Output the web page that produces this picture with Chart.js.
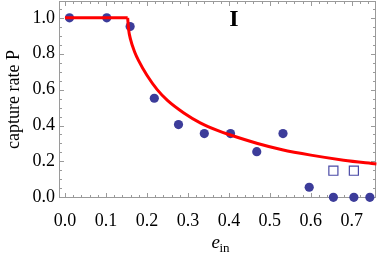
<!DOCTYPE html>
<html lang="en">
<head>
    <meta charset="UTF-8">
    <title>Capture rate</title>
    <script src="https://cdn.jsdelivr.net/npm/chart.js"></script>
    <style>
        html, body { margin: 0; padding: 0; background: #ffffff; }
        .wrap { width: 382px; height: 254px; }
    </style>
</head>
<body>
    <div class="wrap"><canvas id="chart" width="382" height="254"></canvas></div>

    <script>
        // --- Data ---
        const simE = [0.011, 0.102, 0.159, 0.218, 0.277, 0.340, 0.404, 0.468, 0.532, 0.596, 0.655, 0.705, 0.744];
        const simP = [1.0, 1.0, 0.952, 0.552, 0.405, 0.355, 0.355, 0.254, 0.355, 0.056, 0.0, 0.0, 0.0];
        const openE = [0.655, 0.705];
        const openP = [0.148, 0.148];
        const plateauE = [0.0, 0.153];
        const plateauP = [1.0, 1.0];
        const fitE = [0.153, 0.155, 0.160, 0.170, 0.180, 0.200, 0.225, 0.250, 0.290, 0.330, 0.375, 0.400, 0.470, 0.530, 0.600, 0.680, 0.760];
        const fitP = [1.00, 0.94, 0.88, 0.81, 0.76, 0.68, 0.60, 0.54, 0.47, 0.415, 0.37, 0.35, 0.30, 0.265, 0.235, 0.207, 0.186];
        const xTicks = [0.0, 0.1, 0.2, 0.3, 0.4, 0.5, 0.6, 0.7];
        const yTicks = [0.0, 0.2, 0.4, 0.6, 0.8, 1.0];

        const pts = (xs, ys) => xs.map((x, i) => ({ x: x, y: ys[i] }));
        const SERIF = '"Liberation Serif", "DejaVu Serif", serif';
        const FRAME = '#9a9a9a';

        // frame with inward ticks on all four sides (Mathematica style)
        const framePlugin = {
            id: 'frame',
            beforeDatasetsDraw(chart) {
                const { ctx, chartArea: a, scales: { x, y } } = chart;
                ctx.save();
                ctx.strokeStyle = FRAME;
                ctx.lineWidth = 1;
                ctx.strokeRect(a.left + 0.5, a.top + 0.5, a.right - a.left - 1, a.bottom - a.top - 1);
                ctx.beginPath();
                for (let v = 0; v <= 0.76; v += 0.02) {
                    const px = Math.round(x.getPixelForValue(v)) + 0.5;
                    const len = Math.abs(v * 10 - Math.round(v * 10)) < 1e-6 ? 5 : 3;
                    ctx.moveTo(px, a.bottom); ctx.lineTo(px, a.bottom - len);
                    ctx.moveTo(px, a.top); ctx.lineTo(px, a.top + len);
                }
                for (let v = 0; v <= 1.06; v += 0.05) {
                    const py = Math.round(y.getPixelForValue(v)) + 0.5;
                    const len = Math.abs(v * 5 - Math.round(v * 5)) < 1e-6 ? 5 : 3;
                    ctx.moveTo(a.left, py); ctx.lineTo(a.left + len, py);
                    ctx.moveTo(a.right, py); ctx.lineTo(a.right - len, py);
                }
                ctx.stroke();
                ctx.restore();
            },
            afterDraw(chart) {
                const { ctx, chartArea: a } = chart;
                ctx.save();
                ctx.fillStyle = '#000';
                ctx.textBaseline = 'alphabetic';
                // panel label
                ctx.font = 'bold 24px ' + SERIF;
                ctx.textAlign = 'center';
                ctx.fillText('I', 234, 26);
                // x axis title: e_in
                const cx = (a.left + a.right) / 2;
                ctx.textAlign = 'left';
                ctx.font = 'italic 19px ' + SERIF;
                ctx.fillText('e', cx - 6, 248);
                ctx.font = '13px ' + SERIF;
                ctx.fillText('in', cx + 2, 252);
                ctx.restore();
            }
        };

        new Chart(document.getElementById('chart'), {
            type: 'scatter',
            data: {
                datasets: [
                    {
                        label: 'plateau',
                        data: pts(plateauE, plateauP),
                        showLine: true,
                        borderColor: '#ff0000',
                        borderWidth: 3,
                        pointRadius: 0,
                        clip: false
                    },
                    {
                        label: 'fit',
                        data: pts(fitE, fitP),
                        showLine: true,
                        borderColor: '#ff0000',
                        borderWidth: 3,
                        pointRadius: 0,
                        cubicInterpolationMode: 'monotone',
                        clip: false
                    },
                    {
                        label: 'simulation',
                        data: pts(simE, simP),
                        backgroundColor: '#3c3c9a',
                        borderWidth: 0,
                        pointRadius: 4.6,
                        clip: false
                    },
                    {
                        label: 'open',
                        data: pts(openE, openP),
                        pointStyle: 'rect',
                        backgroundColor: '#ffffff',
                        borderColor: '#4a4aa6',
                        borderWidth: 1.2,
                        pointRadius: 6.4,
                        clip: false
                    }
                ]
            },
            options: {
                responsive: false,
                animation: false,
                layout: { autoPadding: false, padding: { top: 1, right: 6, left: 0, bottom: 0 } },
                plugins: { legend: { display: false }, tooltip: { enabled: false } },
                scales: {
                    x: {
                        type: 'linear',
                        min: -0.0146,
                        max: 0.759,
                        grid: { display: false, drawTicks: false },
                        border: { display: false },
                        afterBuildTicks: s => { s.ticks = xTicks.map(v => ({ value: v })); },
                        afterFit: s => { s.height = 56; s.paddingLeft = 0; s.paddingRight = 0; },
                        ticks: {
                            padding: 12,
                            color: '#000',
                            font: { family: SERIF, size: 18 },
                            callback: v => v.toFixed(1)
                        }
                    },
                    y: {
                        type: 'linear',
                        min: -0.004,
                        max: 1.094,
                        grid: { display: false, drawTicks: false },
                        border: { display: false },
                        afterBuildTicks: s => { s.ticks = yTicks.map(v => ({ value: v })); },
                        afterFit: s => { s.width = 59; s.paddingTop = 0; s.paddingBottom = 0; },
                        ticks: {
                            padding: 4,
                            color: '#000',
                            font: { family: SERIF, size: 18 },
                            callback: v => v.toFixed(1)
                        },
                        title: {
                            display: true,
                            text: 'capture rate P',
                            color: '#000',
                            font: { family: SERIF, size: 18 },
                            padding: { top: 3, bottom: 0 }
                        }
                    }
                }
            },
            plugins: [framePlugin]
        });
    </script>
</body>
</html>
